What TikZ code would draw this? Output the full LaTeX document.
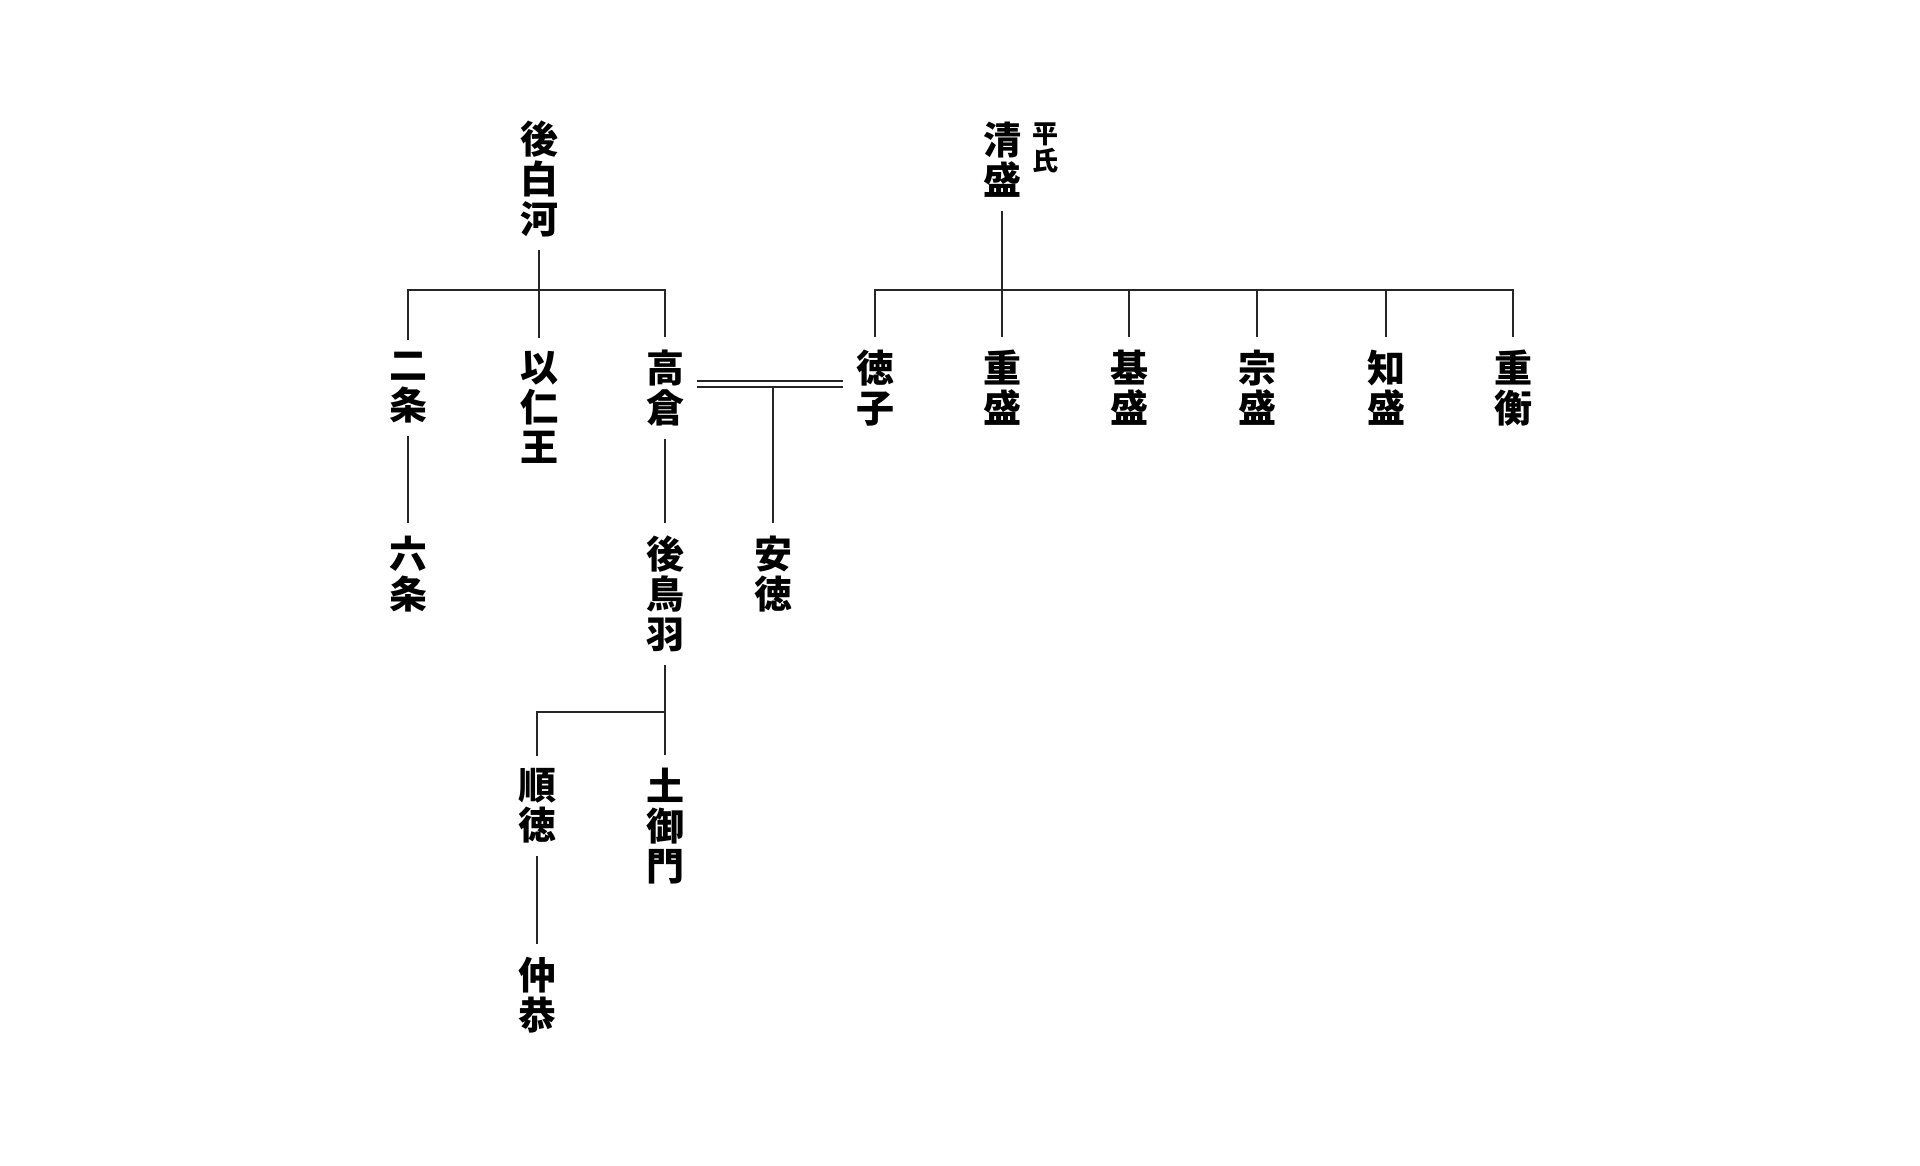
\documentclass[tikz,border=0pt]{standalone}
\usepackage{fontspec}
\newfontfamily\jp{Noto Sans CJK JP}
\begin{document}
\begin{tikzpicture}[x=1pt,y=-1pt,
  person/.style={inner sep=0pt,outer sep=13pt,align=center,
    font=\jp\bfseries\fontsize{38pt}{40pt}\selectfont},
  smalltag/.style={inner sep=0pt,align=center,
    font=\jp\bfseries\fontsize{26pt}{27pt}\selectfont},
  link/.style={line width=1.2pt,draw=black!85}]
\useasboundingbox[fill=white] (0,0) rectangle (1920,1165);
% nodes
\node[person] (gsk) at (539,179) {後\\白\\河};
\node[person] (kiyo) at (1002,160) {清\\盛};
\node[smalltag] (heishi) at (1045,148) {平\\氏};
\node[person] (nijo) at (408,388) {二\\条};
\node[person] (mochi) at (539,407) {以\\仁\\王};
\node[person] (taka) at (665,388) {高\\倉};
\node[person] (toku) at (875,388) {徳\\子};
\node[person] (shige) at (1002,388) {重\\盛};
\node[person] (moto) at (1129,388) {基\\盛};
\node[person] (mune) at (1257,388) {宗\\盛};
\node[person] (tomo) at (1386,388) {知\\盛};
\node[person] (shigehira) at (1513,388) {重\\衡};
\node[person] (rokujo) at (408,574) {六\\条};
\node[person] (gotoba) at (665,594) {後\\鳥\\羽};
\node[person] (antoku) at (773,574) {安\\徳};
\node[person] (juntoku) at (537,806) {順\\徳};
\node[person] (tsuchi) at (665,826) {土\\御\\門};
\node[person] (chukyo) at (537,995) {仲\\恭};
% junction coordinates
\coordinate (bar1) at (539,290);
\coordinate (bar2) at (1002,290);
\coordinate (bar3) at (665,712);
\coordinate (wed) at (773,384);
\coordinate (wedlow) at (773,387);
% connectors
\draw[link] (gsk.south) -- (mochi.north);
\draw[link] (nijo.north) |- (bar1) -| (taka.north);
\draw[link] (kiyo.south) -- (shige.north);
\draw[link] (toku.north) |- (bar2) -| (shigehira.north);
\draw[link] (moto.north) -- (moto.north |- bar2);
\draw[link] (mune.north) -- (mune.north |- bar2);
\draw[link] (tomo.north) -- (tomo.north |- bar2);
\draw[line width=1.3pt,draw=black!85,double,double distance=4.5pt] (taka.east |- wed) -- (toku.west |- wed);
\draw[link] (wedlow) -- (antoku.north);
\draw[link] (nijo.south) -- (rokujo.north);
\draw[link] (taka.south) -- (gotoba.north);
\draw[link] (gotoba.south) -- (tsuchi.north);
\draw[link] (juntoku.north) |- (bar3);
\draw[link] (juntoku.south) -- (chukyo.north);
\end{tikzpicture}
\end{document}
